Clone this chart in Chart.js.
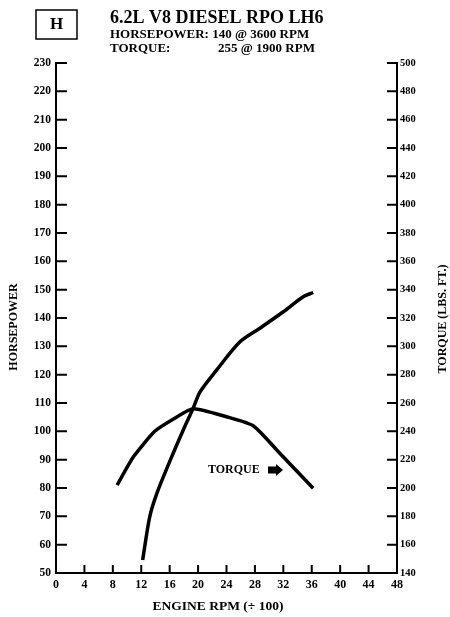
<!DOCTYPE html>
<html>
<head>
<meta charset="utf-8">
<script src="https://cdn.jsdelivr.net/npm/chart.js@4/dist/chart.umd.min.js"></script>
<style>
  html, body { margin: 0; padding: 0; background: #fff; }
  #wrap { position: relative; width: 450px; height: 617px; }
</style>
</head>
<body>
<div id="wrap"><canvas id="chart" width="450" height="617"></canvas></div>
<script>
// Horsepower curve (left axis)
const hpRpm = [12.2, 13.2, 14.2, 16.1, 17.9, 19.3, 20.3, 22.6, 25.9, 28.7, 32.0, 34.8, 36.2];
const hpValues = [54.6, 69.9, 78.1, 89.9, 100.4, 108.1, 114, 121.6, 131.6, 136.4, 142.2, 147.5, 149];

// Torque curve (right axis)
const tqRpm = [8.6, 10.9, 13.9, 16.3, 19.3, 24.0, 27.8, 31.5, 36.2];
const tqValues = [202, 222, 240, 248, 256, 250.3, 243.8, 224.5, 199.8];

// Axis ranges / tick steps
const rpmRange = [0, 48, 4];
const hpRange = [50, 230, 10];
const tqRange = [140, 500, 20];

const serif = "'Liberation Serif', 'DejaVu Serif', serif";

function toPoints(xs, ys) {
  return xs.map((x, i) => ({ x: x, y: ys[i] }));
}

// draws the header, axis titles, label and inward tick marks
const decorations = {
  id: "decorations",
  afterDraw(chart) {
    const ctx = chart.ctx;
    const { x, y, y1 } = chart.scales;
    ctx.save();
    ctx.fillStyle = "#000";
    ctx.strokeStyle = "#000";

    // tick marks pointing into the plot
    ctx.lineWidth = 2;
    ctx.beginPath();
    y.ticks.forEach((t, i) => {
      if (t.value === hpRange[0]) return;
      const py = y.getPixelForTick(i);
      ctx.moveTo(y.left + y.width, py);
      ctx.lineTo(y.left + y.width + 11, py);
    });
    y1.ticks.forEach((t, i) => {
      if (t.value === tqRange[0]) return;
      const py = y1.getPixelForTick(i);
      ctx.moveTo(y1.left, py);
      ctx.lineTo(y1.left - 10, py);
    });
    x.ticks.forEach((t, i) => {
      if (t.value === rpmRange[0] || t.value === rpmRange[1]) return;
      const px = x.getPixelForTick(i);
      ctx.moveTo(px, x.top);
      ctx.lineTo(px, x.top - 8);
    });
    ctx.stroke();

    // header box
    ctx.lineWidth = 1.5;
    ctx.strokeRect(36, 10, 41, 29);
    ctx.font = "bold 17px " + serif;
    ctx.textAlign = "center";
    ctx.textBaseline = "middle";
    ctx.fillText("H", 56.5, 25);

    ctx.textAlign = "left";
    ctx.textBaseline = "alphabetic";
    ctx.font = "bold 18px " + serif;
    ctx.fillText("6.2L V8 DIESEL RPO LH6", 110, 23);
    ctx.font = "bold 13px " + serif;
    ctx.fillText("HORSEPOWER: 140 @ 3600 RPM", 110, 38);
    ctx.fillText("TORQUE:", 110, 51.5);
    ctx.fillText("255 @ 1900 RPM", 218, 51.5);

    // axis titles
    ctx.font = "bold 12px " + serif;
    ctx.textAlign = "center";
    ctx.textBaseline = "middle";
    ctx.save();
    ctx.translate(14, 327);
    ctx.rotate(-Math.PI / 2);
    ctx.fillText("HORSEPOWER", 0, 0);
    ctx.restore();
    ctx.save();
    ctx.translate(443, 319);
    ctx.rotate(-Math.PI / 2);
    ctx.fillText("TORQUE (LBS. FT.)", 0, 0);
    ctx.restore();
    ctx.font = "bold 13.5px " + serif;
    ctx.fillText("ENGINE RPM (\u00F7 100)", 218, 607);

    // torque label with arrow
    ctx.font = "bold 12px " + serif;
    ctx.textAlign = "left";
    ctx.fillText("TORQUE", 208, 470);
    ctx.beginPath();
    ctx.moveTo(268, 466.5);
    ctx.lineTo(276, 466.5);
    ctx.lineTo(276, 464);
    ctx.lineTo(283, 470);
    ctx.lineTo(276, 476);
    ctx.lineTo(276, 473.5);
    ctx.lineTo(268, 473.5);
    ctx.closePath();
    ctx.fill();

    ctx.restore();
  }
};

const ctx = document.getElementById("chart").getContext("2d");

const chart = new Chart(ctx, {
  type: "line",
  data: {
    datasets: [
      {
        label: "Horsepower",
        data: toPoints(hpRpm, hpValues),
        yAxisID: "y",
        borderColor: "#000",
        borderWidth: 3.5,
        pointRadius: 0,
        tension: 0.3,
        fill: false
      },
      {
        label: "Torque",
        data: toPoints(tqRpm, tqValues),
        yAxisID: "y1",
        borderColor: "#000",
        borderWidth: 3.5,
        pointRadius: 0,
        tension: 0.2,
        fill: false
      }
    ]
  },
  options: {
    responsive: false,
    animation: false,
    layout: { padding: { top: 63, left: 0, right: 0, bottom: 0 } },
    plugins: {
      legend: { display: false },
      tooltip: { enabled: false }
    },
    scales: {
      x: {
        type: "linear",
        min: rpmRange[0],
        max: rpmRange[1],
        grid: { display: false, drawTicks: false },
        border: { display: true, color: "#000", width: 2 },
        ticks: {
          stepSize: rpmRange[2],
          color: "#000",
          padding: 5,
          maxRotation: 0,
          font: { family: serif, weight: "bold", size: 12 }
        },
        afterFit(scale) {
          scale.height = 44;
        }
      },
      y: {
        type: "linear",
        position: "left",
        min: hpRange[0],
        max: hpRange[1],
        grid: { display: false, drawTicks: false },
        border: { display: true, color: "#000", width: 2 },
        ticks: {
          stepSize: hpRange[2],
          color: "#000",
          padding: 5,
          font: { family: serif, weight: "bold", size: 11.5 }
        },
        afterFit(scale) {
          scale.width = 56;
        }
      },
      y1: {
        type: "linear",
        position: "right",
        min: tqRange[0],
        max: tqRange[1],
        grid: { display: false, drawTicks: false },
        border: { display: true, color: "#000", width: 2 },
        ticks: {
          stepSize: tqRange[2],
          color: "#000",
          padding: 3,
          font: { family: serif, weight: "bold", size: 10.5 }
        },
        afterFit(scale) {
          scale.width = 53;
        }
      }
    }
  },
  plugins: [decorations]
});
</script>
</body>
</html>
